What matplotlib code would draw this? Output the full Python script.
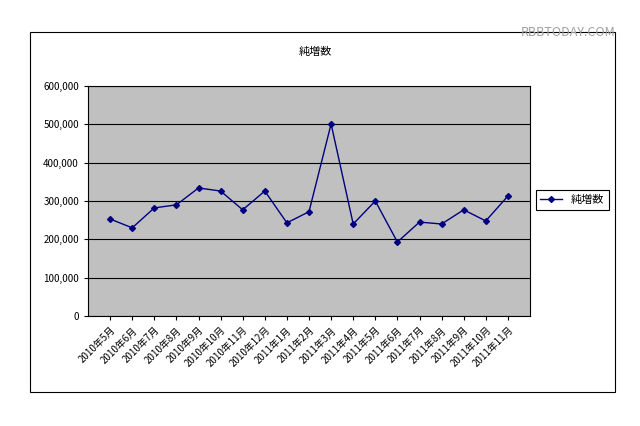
import matplotlib
matplotlib.use("Agg")
import matplotlib.pyplot as plt
from matplotlib.patches import Rectangle

plt.rcParams['font.family'] = ['Noto Sans CJK JP', 'DejaVu Sans']

months = ["2010年5月","2010年6月","2010年7月","2010年8月","2010年9月","2010年10月","2010年11月","2010年12月",
          "2011年1月","2011年2月","2011年3月","2011年4月","2011年5月","2011年6月","2011年7月","2011年8月",
          "2011年9月","2011年10月","2011年11月"]
values = [253000,230000,282000,290000,334000,326000,277000,326000,243000,272000,501000,240000,300000,
          193000,245000,240000,277000,248000,313000]

fig = plt.figure(figsize=(6.4,4.26), dpi=100)
fig.patches.append(Rectangle((30/640, 1-392/426), 585/640, 360/426, transform=fig.transFigure,
                             fill=False, edgecolor='black', linewidth=0.8))
ax = fig.add_axes([88/640, 1-316/426, 442/640, 230/426])
ax.set_facecolor('#c0c0c0')
x = range(len(months))
ax.plot(x, values, color='#000080', marker='D', markersize=3, linewidth=1, label='純増数')
ax.set_xlim(-1, len(months))
ax.set_ylim(0, 600000)
ax.set_yticks(range(0, 600001, 100000))
ax.set_yticklabels([f"{v:,}" for v in range(0, 600001, 100000)], fontsize=7)
ax.grid(axis='y', color='black', linewidth=0.8)
ax.set_axisbelow(True)
ax.set_xticks(list(x))
ax.set_xticklabels(months, rotation=45, ha='right', fontsize=7, rotation_mode='anchor')
for s in ax.spines.values():
    s.set_linewidth(0.8)
ax.tick_params(length=3)
fig.text(315/640, 1-52/426, '純増数', ha='center', va='center', fontsize=8)
leg = fig.legend(loc='center left', bbox_to_anchor=(530/640, 1-200/426), fontsize=8,
                 fancybox=False, edgecolor='black', framealpha=1)
leg.get_frame().set_linewidth(0.8)
fig.text(615/640, 1-32/426, 'RBBTODAY.COM', ha='right', va='center', fontsize=9, color='#a0a0a0')
fig.savefig('out.png', dpi=100)
